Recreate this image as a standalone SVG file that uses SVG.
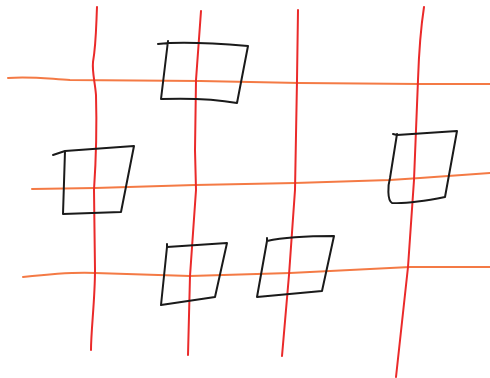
<svg xmlns="http://www.w3.org/2000/svg" width="490" height="378" viewBox="0 0 490 378">
<style>
.h{fill:none;stroke:#f47a45;stroke-width:2;stroke-linecap:round;stroke-linejoin:round}
.v{fill:none;stroke:#ea2a2a;stroke-width:2;stroke-linecap:round;stroke-linejoin:round}
.n{fill:none;stroke:#1a1a1a;stroke-width:2;stroke-linecap:round;stroke-linejoin:round}
</style>
<rect width="490" height="378" fill="#ffffff"/>
<g id="connectors">
<path class="h" d="M8,78 C30,76 50,79 70,80 L200,81 L300,83 L420,84 L490,84"/>
<path class="h" d="M32,189 L95,188 L195,185 L295,183 L390,180 L420,178 L490,173"/>
<path class="h" d="M23,277 C50,274 75,272 95,273 L190,276 L290,273 L410,267 L490,267"/>
<path class="v" d="M97,7 C96,30 96,45 93,62 C92,72 95,82 96,95 C97,130 96,160 94,190 L95,270 C95,300 91,330 91,350"/>
<path class="v" d="M201,11 L196,80 L195,150 L196,190 L190,276 L188,355"/>
<path class="v" d="M298,10 L297,80 L295,190 L289,275 L282,356"/>
<path class="v" d="M424,7 C422,20 419,50 418,80 L414,180 L408,267 L396,377"/>
</g>
<g id="node1"><path class="n" d="M158,44 C175,42 200,42 248,46 L237,103 C215,99 190,98 161,99 L168,41"/></g>
<g id="node2"><path class="n" d="M53,155 L65,151 L134,146 L121,212 L63,214 L65,151"/></g>
<g id="node3"><path class="n" d="M393,134 L397,135 L457,131 L445,197 C430,200 410,204 392,203 C387,200 388,185 390,178 L397,134"/></g>
<g id="node4"><path class="n" d="M167,244 L167,247 L227,243 L215,297 L161,305 L167,247"/></g>
<g id="node5"><path class="n" d="M267,238 L267,241 C285,237 310,236 334,236 L322,291 L257,297 L267,241"/></g>
</svg>
